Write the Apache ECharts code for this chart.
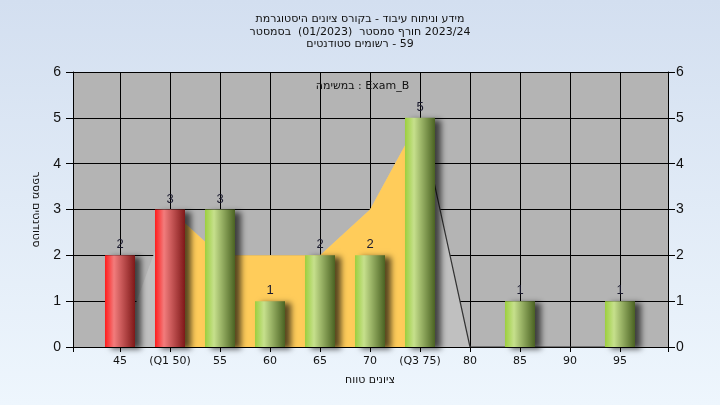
<!DOCTYPE html>
<html>
<head>
<meta charset="utf-8">
<script src="https://cdn.jsdelivr.net/npm/echarts@6/dist/echarts.min.js"></script>
<style>
html,body{margin:0;padding:0;}
#chart{width:720px;height:405px;}
</style>
</head>
<body>
<div id="chart"></div>
<script>
// ---- data ----
const titleLines = [
  'היסטוגרמת ציונים בקורס - עיבוד וניתוח מידע',
  'בסמסטר  (01/2023)  סמסטר חורף 2023/24',
  'סטודנטים רשומים - 59'
];
const legendName = 'במשימה : Exam_B';
const xAxisTitle = 'טווח ציונים';
const yAxisTitle = 'מספר סטודנטים';
const categories = ['45', '(Q1 50)', '55', '60', '65', '70', '(Q3 75)', '80', '85', '90', '95'];
const grades = [45, 50, 55, 60, 65, 70, 75, 80, 85, 90, 95];
const counts = [2, 3, 3, 1, 2, 2, 5, 0, 1, 0, 1];
const passGrade = 55;
const distribution = [0, 3, 2, 2, 2, 3, 5, 0, 0, 0, 0];
const interQuartile = [null, 3, 2, 2, 2, 3, 5, null, null, null, null];
const tailLine = [null, null, null, null, null, null, 5, 0, 0, 0, 0];
const yTicks = [0, 1, 2, 3, 4, 5, 6];

// draw each word as its own rich-text token so words keep left-to-right order like the original renderer
function ltrWords(s) { return s.split(' ').map(w => (w ? '{w|' + w + '}' : '')).join(' '); }

const FONT = 'DejaVu Sans';
const TXT = '#111';
const redGrad = new echarts.graphic.LinearGradient(0, 0, 1, 0, [
  {offset: 0, color: '#ff1c1c'}, {offset: 0.3, color: '#f27c7c'}, {offset: 1, color: '#7e1818'}]);
const greenGrad = new echarts.graphic.LinearGradient(0, 0, 1, 0, [
  {offset: 0, color: '#9ccf3e'}, {offset: 0.3, color: '#c6e08c'}, {offset: 1, color: '#4a6222'}]);

const chart = echarts.init(document.getElementById('chart'));
chart.setOption({
  backgroundColor: new echarts.graphic.LinearGradient(0, 0, 0, 1, [
    {offset: 0, color: '#d3dff0'}, {offset: 1, color: '#eef6fd'}]),
  textStyle: {fontFamily: FONT},
  title: {
    text: titleLines.map(ltrWords).join('\n'),
    left: 'center', top: 8,
    textStyle: {fontSize: 11, fontWeight: 'normal', color: TXT, lineHeight: 12.5, fontFamily: FONT,
      rich: {w: {fontSize: 11, color: TXT, lineHeight: 12.5, fontFamily: FONT}}}
  },
  legend: {
    data: [{name: legendName, icon: 'none'}],
    top: 74, left: 'center', itemWidth: 0, itemGap: 0,
    textStyle: {fontSize: 11, color: TXT, fontFamily: FONT},
    selectedMode: false
  },
  grid: [
    {left: 73, right: 52, top: 72, bottom: 58, show: true, backgroundColor: '#b4b4b4', borderWidth: 0},
    {left: 120, right: 100, top: 72, bottom: 58}
  ],
  xAxis: [
    {gridIndex: 0, type: 'value', min: 0, max: 1, interval: 1,
     axisLine: {show: true, onZero: false, lineStyle: {color: '#000'}},
     axisTick: {show: true, length: 5, lineStyle: {color: '#000'}}, axisLabel: {show: false}, splitLine: {show: false}},
    {gridIndex: 1, type: 'category', data: categories, boundaryGap: false,
     axisLine: {show: false}, axisTick: {show: true, length: 5, lineStyle: {color: '#000'}},
     axisLabel: {color: TXT, fontSize: 11, margin: 9, fontFamily: FONT, interval: 0},
     splitLine: {show: true, lineStyle: {color: '#000', width: 1}},
     name: ltrWords(xAxisTitle), nameLocation: 'middle', nameGap: 28,
     nameTextStyle: {fontSize: 11, color: TXT, fontFamily: FONT,
       rich: {w: {fontSize: 11, color: TXT, fontFamily: FONT}}}}
  ],
  yAxis: [
    {gridIndex: 0, type: 'value', min: yTicks[0], max: yTicks[yTicks.length - 1], interval: 1, position: 'left',
     axisLine: {show: true, lineStyle: {color: '#000'}}, axisTick: {show: true, length: 7, lineStyle: {color: '#000'}},
     axisLabel: {color: TXT, fontSize: 14, margin: 12, fontFamily: 'Liberation Sans'},
     splitLine: {show: true, lineStyle: {color: '#000', width: 1}},
     name: ltrWords(yAxisTitle), nameLocation: 'middle', nameRotate: -90, nameGap: 32,
     nameTextStyle: {fontSize: 11, color: TXT, fontFamily: FONT,
       rich: {w: {fontSize: 11, color: TXT, fontFamily: FONT}}}},
    {gridIndex: 0, type: 'value', min: yTicks[0], max: yTicks[yTicks.length - 1], interval: 1, position: 'right',
     axisLine: {show: true, lineStyle: {color: '#000'}}, axisTick: {show: true, length: 7, lineStyle: {color: '#000'}},
     axisLabel: {color: TXT, fontSize: 14, margin: 8, fontFamily: 'Liberation Sans'},
     splitLine: {show: false}},
    {gridIndex: 1, type: 'value', min: yTicks[0], max: yTicks[yTicks.length - 1], show: false}
  ],
  series: [
    {type: 'line', xAxisIndex: 1, yAxisIndex: 2, data: distribution, symbol: 'none', z: 2,
     lineStyle: {width: 0}, areaStyle: {color: '#c0c0c0', opacity: 1}, silent: true},
    {type: 'line', xAxisIndex: 1, yAxisIndex: 2, data: interQuartile, symbol: 'none', z: 3,
     lineStyle: {width: 0}, areaStyle: {color: '#ffcc5a', opacity: 1}, silent: true},
    {type: 'line', xAxisIndex: 1, yAxisIndex: 2, data: tailLine, symbol: 'none', z: 4,
     lineStyle: {width: 1.2, color: '#333'}, silent: true},
    {type: 'bar', name: legendName, xAxisIndex: 1, yAxisIndex: 2, barWidth: 30, clip: false, z: 5,
     data: counts.map((v, i) => ({value: v, itemStyle: {color: grades[i] < passGrade ? redGrad : greenGrad}})),
     itemStyle: {shadowColor: 'rgba(0,0,0,0.65)', shadowBlur: 6, shadowOffsetX: 6, shadowOffsetY: 2},
     label: {show: true, position: 'top', distance: 4, fontSize: 13, color: '#1a1a2e', fontFamily: 'Liberation Sans',
       formatter: p => (p.value ? String(p.value) : '')}}
  ]
});
</script>
</body>
</html>
